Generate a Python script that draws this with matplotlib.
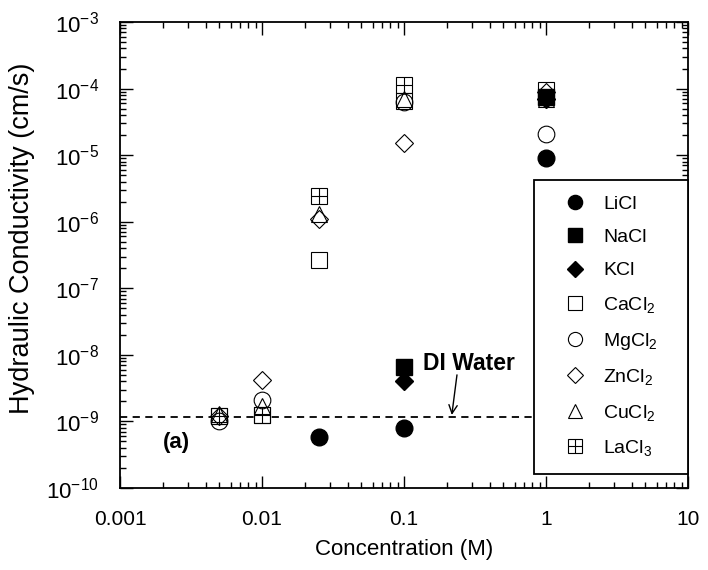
import numpy as np
import matplotlib
matplotlib.use("Agg")
import matplotlib.pyplot as plt
from matplotlib.ticker import LogLocator, NullFormatter
from matplotlib.legend_handler import HandlerTuple

plt.rcParams['font.family'] = ['Liberation Sans', 'DejaVu Sans']
plt.rcParams['mathtext.fontset'] = 'custom'
plt.rcParams['mathtext.rm'] = 'Liberation Sans'
plt.rcParams['mathtext.it'] = 'Liberation Sans:italic'
plt.rcParams['mathtext.bf'] = 'Liberation Sans:bold'
plt.rcParams['mathtext.default'] = 'regular'

# Data (concentration in M, hydraulic conductivity in cm/s)
conc_licl = [0.025, 0.1, 1.0]
k_licl = [5.8e-10, 8.0e-10, 9.0e-6]

conc_nacl = [0.1, 1.0]
k_nacl = [6.5e-9, 7.5e-5]

conc_kcl = [0.1, 1.0]
k_kcl = [4.0e-9, 7.0e-5]

conc_cacl2 = [0.005, 0.01, 0.025, 0.1, 1.0]
k_cacl2 = [1.2e-9, 1.25e-9, 2.7e-7, 6.5e-5, 9.5e-5]

conc_mgcl2 = [0.005, 0.01, 0.1, 1.0]
k_mgcl2 = [1.0e-9, 2.1e-9, 6.3e-5, 2.1e-5]

conc_zncl2 = [0.005, 0.01, 0.025, 0.1, 1.0]
k_zncl2 = [1.2e-9, 4.2e-9, 1.1e-6, 1.5e-5, 9.0e-5]

conc_cucl2 = [0.005, 0.01, 0.025, 0.1, 1.0]
k_cucl2 = [1.3e-9, 1.7e-9, 1.3e-6, 7.0e-5, 7.0e-5]

conc_lacl3 = [0.005, 0.01, 0.025, 0.1]
k_lacl3 = [1.2e-9, 1.25e-9, 2.4e-6, 1.15e-4]

di_water = 1.15e-9

fig = plt.figure(figsize=(7.08, 5.70), dpi=100)
ax = fig.add_axes([0.1695, 0.1439, 0.8023, 0.8175])

ms = 12
mew = 0.8
h1, = ax.plot(conc_licl, k_licl, 'o', ms=ms, color='black', ls='none', zorder=3)
h2, = ax.plot(conc_nacl, k_nacl, 's', ms=ms * 0.95, color='black', ls='none', zorder=3)
h3, = ax.plot(conc_kcl, k_kcl, 'D', ms=ms * 0.8, color='black', ls='none', zorder=3)
h4, = ax.plot(conc_cacl2, k_cacl2, 's', ms=ms, mfc='white', mec='black', mew=mew, ls='none', zorder=2)
h5, = ax.plot(conc_mgcl2, k_mgcl2, 'o', ms=ms, mfc='none', mec='black', mew=mew, ls='none', zorder=2)
h6, = ax.plot(conc_zncl2, k_zncl2, 'D', ms=ms * 0.8, mfc='none', mec='black', mew=mew, ls='none', zorder=2)
h7, = ax.plot(conc_cucl2, k_cucl2, '^', ms=ms, mfc='none', mec='black', mew=mew, ls='none', zorder=2)
h8a, = ax.plot(conc_lacl3, k_lacl3, 's', ms=ms, mfc='none', mec='black', mew=mew, ls='none', zorder=2)
h8b, = ax.plot(conc_lacl3, k_lacl3, '+', ms=ms, color='black', mew=mew, ls='none', zorder=2)

ax.axhline(di_water, xmax=0.73, color='black', ls=(0, (4, 3)), lw=1.3, zorder=1)

ax.set_xscale('log')
ax.set_yscale('log')
ax.set_xlim(0.001, 10)
ax.set_ylim(1e-10, 1e-3)

ax.yaxis.set_major_locator(LogLocator(base=10, numticks=10))
ax.xaxis.set_minor_locator(LogLocator(base=10, subs=np.arange(2, 10), numticks=20))
ax.yaxis.set_minor_locator(LogLocator(base=10, subs=np.arange(2, 10), numticks=20))
ax.xaxis.set_minor_formatter(NullFormatter())
ax.yaxis.set_minor_formatter(NullFormatter())
ax.set_xticks([0.001, 0.01, 0.1, 1, 10])
ax.set_xticklabels(['0.001', '0.01', '0.1', '1', '10'])

ax.tick_params(which='both', direction='in', top=True, right=True)
ax.tick_params(axis='x', which='major', labelsize=15, pad=16)
ax.tick_params(axis='y', which='major', labelsize=16, pad=15)
ax.tick_params(which='major', length=9, width=1)
ax.tick_params(which='minor', length=4.5, width=1)
for s in ax.spines.values():
    s.set_linewidth(1.3)

ax.set_xlabel('Concentration (M)', fontsize=16, labelpad=7)
ax.set_ylabel('Hydraulic Conductivity (cm/s)', fontsize=19.5)
ax.yaxis.set_label_coords(-0.150, 0.536)

ax.text(0.0025, 4.8e-10, '(a)', fontsize=16, fontweight='bold', ha='center', va='center')
ax.text(0.136, 7.5e-9, 'DI Water', fontsize=16.5, fontweight='bold', ha='left', va='center')
ax.annotate('', xy=(0.217, 1.25e-9), xytext=(0.236, 5.0e-9),
            arrowprops=dict(arrowstyle='->,head_length=0.6,head_width=0.3', color='black', lw=1.0,
                            shrinkA=0, shrinkB=0))

handles = [h1, h2, h3, h4, h5, h6, h7, (h8a, h8b)]
labels = ['LiCl', 'NaCl', 'KCl', 'CaCl$_2$', 'MgCl$_2$', 'ZnCl$_2$', 'CuCl$_2$', 'LaCl$_3$']
leg = ax.legend(handles, labels, loc='upper left', bbox_to_anchor=(0.729, 0.028, 0.271, 0.633),
                mode='expand', borderaxespad=0, fontsize=14,
                frameon=True, fancybox=False, edgecolor='black', framealpha=1,
                labelspacing=0.8, handletextpad=0.15, borderpad=0.8,
                handlelength=2.6, markerscale=0.85,
                handler_map={tuple: HandlerTuple(ndivide=1, pad=0)})
leg.get_frame().set_linewidth(1.3)
leg.set_zorder(5)

fig.savefig('out.png', dpi=100)
